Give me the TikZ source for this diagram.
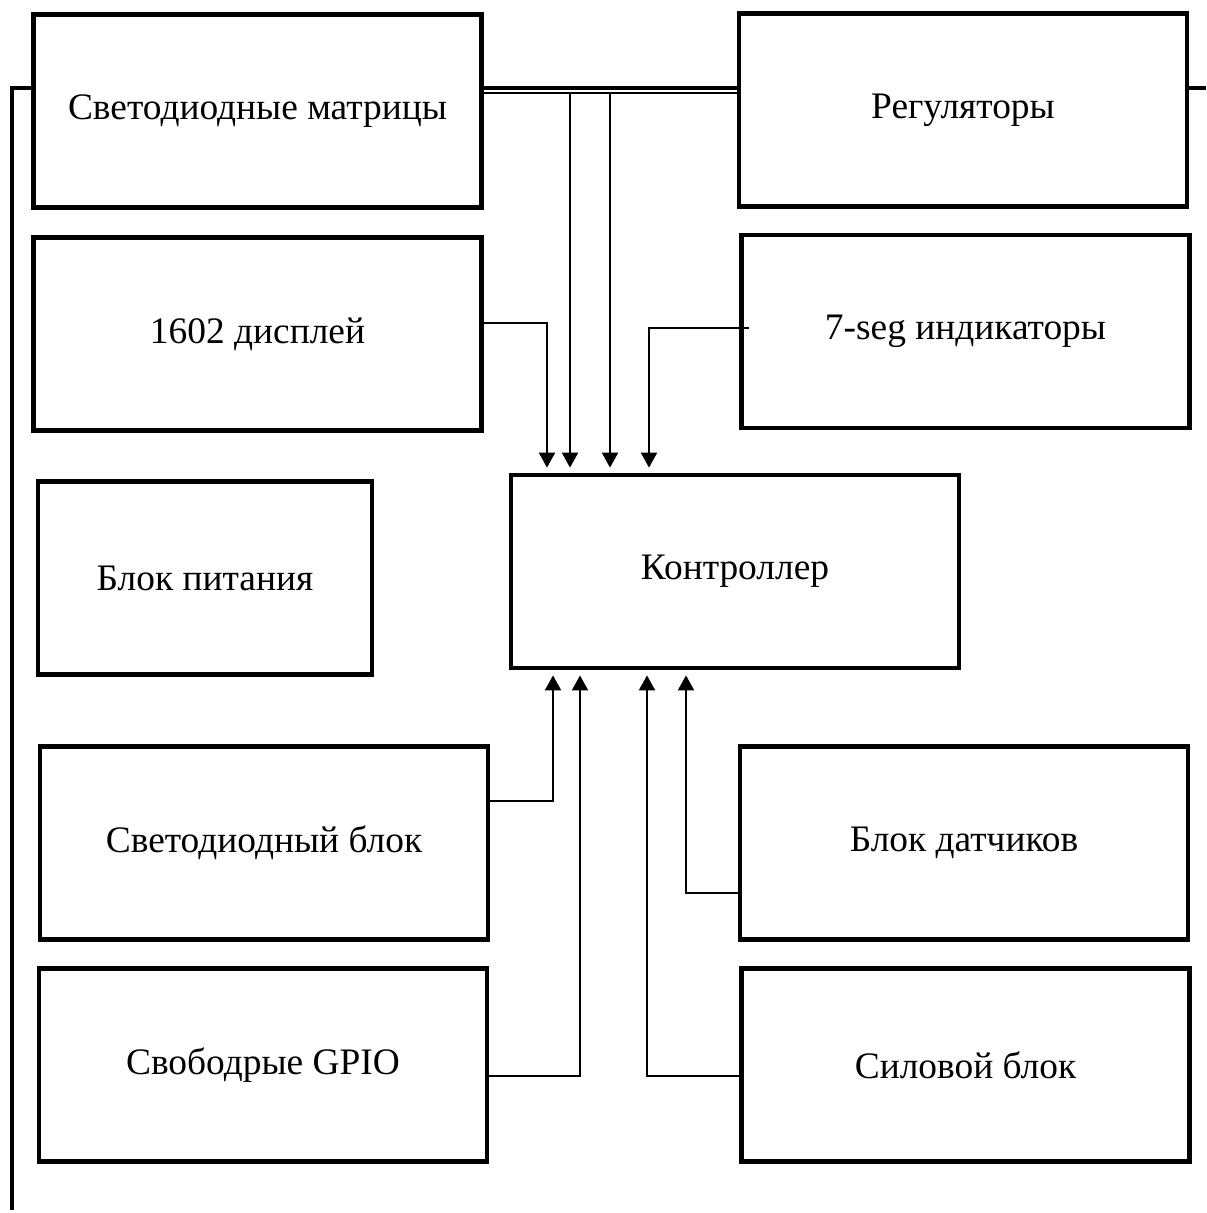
\documentclass[tikz,border=0pt]{standalone}
\usepackage{fontspec}
\setmainfont{Liberation Serif}
\usepackage{tikz}
\usetikzlibrary{arrows.meta}

\begin{document}
\begin{tikzpicture}[x=0.5pt,y=-0.5pt,
blk/.style={draw,line width=2.4pt,fill=white,minimum width=224pt,minimum height=96.5pt,inner sep=0pt,font=\fontsize{18.7}{22}\selectfont},
bus/.style={line width=2.4pt},
arr/.style={line width=1pt,-{Triangle[length=7.5pt,width=8pt]},shorten >=2.5pt}]
\useasboundingbox(0,0)rectangle(1206,1213);
\draw[bus](12,1210)|-(1206,88);
\draw[line width=1pt](482,93)--(742,93);
%%
\node[blk](matr)at(257.5,111){Светодиодные матрицы};
\node[blk](reg)at(963,110){Регуляторы};
\node[blk](disp)at(257.5,334){1602 дисплей};
\node[blk](seg)at(965.5,331.5){7-seg индикаторы};
\node[blk,minimum width=167pt](pit)at(205,578){Блок питания};
\node[blk](ctrl)at(735,571.5){Контроллер};
\node[blk](ledb)at(264,843){Светодиодный блок};
\node[blk](sens)at(964,843){Блок датчиков};
\node[blk](gpio)at(263,1065){Свободрые GPIO};
\node[blk](sil)at(965.5,1065){Силовой блок};
%%
\draw[arr](matr.east|-0,93)-|([xshift=-82.5pt]ctrl.north);
\draw[arr](reg.west|-0,93)-|([xshift=-62.5pt]ctrl.north);
\draw[arr](disp.east|-0,323)-|([xshift=-94pt]ctrl.north);
\draw[arr]([xshift=5pt]seg.west|-0,328)-|([xshift=-43pt]ctrl.north);
\draw[arr](ledb.east|-0,801)-|([xshift=-91pt]ctrl.south);
\draw[arr](gpio.east|-0,1076)-|([xshift=-77.5pt]ctrl.south);
\draw[arr](sil.west|-0,1076)-|([xshift=-44pt]ctrl.south);
\draw[arr](sens.west|-0,893)-|([xshift=-24.5pt]ctrl.south);
\end{tikzpicture}
\end{document}
